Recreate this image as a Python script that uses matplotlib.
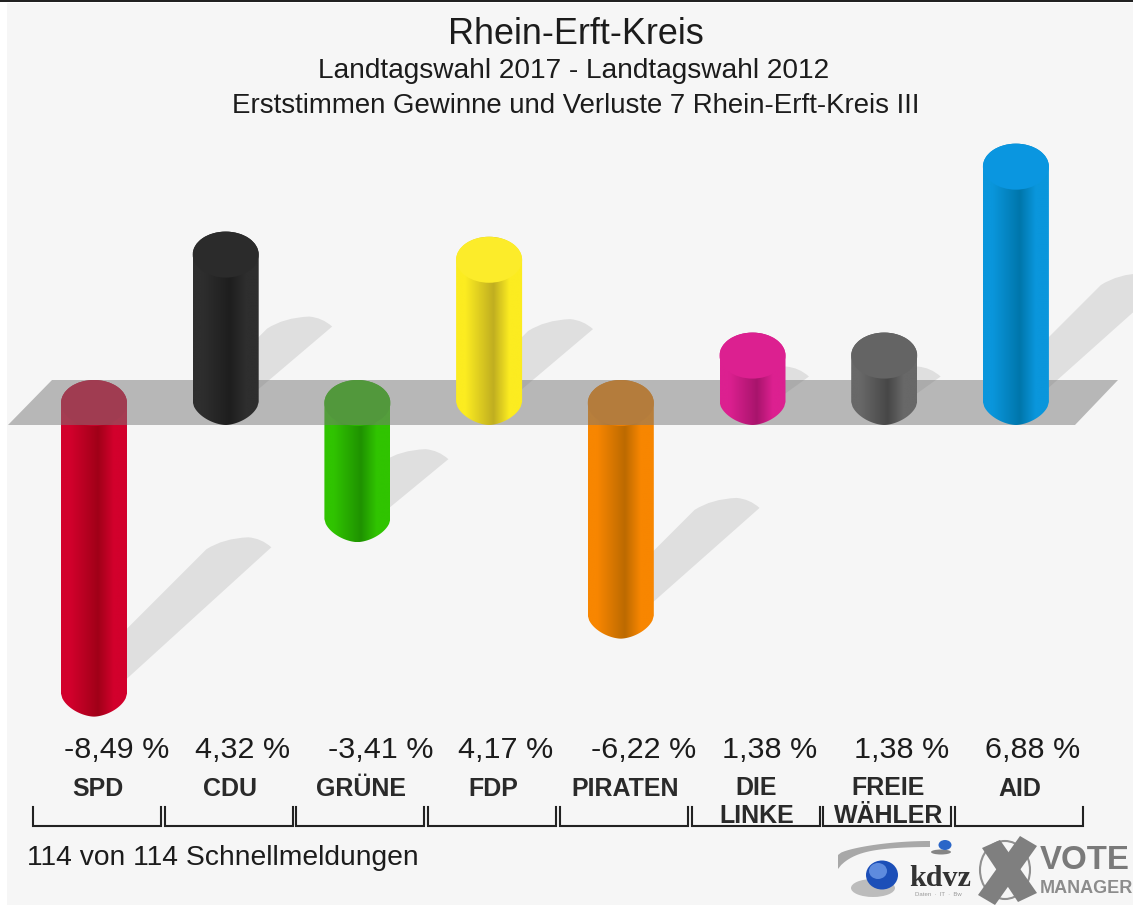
import numpy as np
import matplotlib
matplotlib.use("Agg")
import matplotlib.pyplot as plt
from matplotlib.path import Path
from matplotlib.patches import PathPatch, Polygon, Rectangle, Ellipse
from matplotlib.colors import LinearSegmentedColormap

plt.rcParams['font.family'] = ['Liberation Sans', 'DejaVu Sans']

# ---- data ----
parties = ["SPD", "CDU", "GRÜNE", "FDP", "PIRATEN", "DIE\nLINKE", "FREIE\nWÄHLER", "AID"]
values = [-8.49, 4.32, -3.41, 4.17, -6.22, 1.38, 1.38, 6.88]
value_labels = ["-8,49 %", "4,32 %", "-3,41 %", "4,17 %", "-6,22 %", "1,38 %", "1,38 %", "6,88 %"]
light_colors = ["#d2002c", "#2e2e2e", "#30c400", "#fcec20", "#f88600", "#dc2090", "#686868", "#0a96dc"]
dark_colors = ["#a00018", "#1e1e1e", "#1f9200", "#c0ae20", "#bc6a00", "#a8146c", "#474747", "#0076ab"]
cap_colors = ["#c8002a", "#2b2b2b", "#2cb800", "#fcec2a", "#f08000", "#dc2090", "#646464", "#0a96e0"]
title = "Rhein-Erft-Kreis"
subtitle_1 = "Landtagswahl 2017 - Landtagswahl 2012"
subtitle_2 = "Erststimmen Gewinne und Verluste 7 Rhein-Erft-Kreis III"
footer = "114 von 114 Schnellmeldungen"

# ---- scales: x in party slots, y in percentage points ----
W, H = 1133, 905
SLOT = 131.7      # px per party
UNIT = 34.35      # px per percentage point
X0, Y0 = 94.0, 380.0  # pixel position of slot 0 and of value 0
DEPTH_PX = 45.0

fig = plt.figure(figsize=(W / 100, H / 100), dpi=100, facecolor="white")
ax = fig.add_axes([0, 0, 1, 1])
ax.axis("off")

def xd(px):
    return (np.asarray(px, float) - X0) / SLOT

def yd(py):
    return (Y0 - np.asarray(py, float)) / UNIT

XL, XR = xd(0), xd(W)
YB, YT = yd(H), yd(0)
DEPTH = DEPTH_PX / UNIT
HW = 33.0 / SLOT
CAP = 23.0 / UNIT

# background and top rule
ax.add_patch(Rectangle((xd(7), yd(H)), xd(W) - xd(7), yd(3) - yd(H), fc="#f6f6f6", ec="none", zorder=0))
ax.add_patch(Rectangle((xd(0), yd(2.2)), xd(W) - xd(0), yd(0) - yd(2.2), fc="#222222", ec="none", zorder=0.5))

def pill(cx, top, bottom):
    t = np.linspace(0, np.pi, 50)
    xs = cx + HW * np.cos(t)
    ys = top - CAP + CAP * np.sin(t)
    u = np.linspace(-1, 1, 50)
    xb = cx + HW * u
    yb = bottom + CAP * (1 - (1 - np.abs(u) ** 1.7) ** (1 / 1.7))
    return np.column_stack([np.r_[xs, xb], np.r_[ys, yb]])

def shadow(i, v):
    D = 35 + 17 * abs(v)
    cx = X0 + i * SLOT
    base = Y0 + DEPTH_PX + UNIT * max(-v, 0)
    verts = [(cx, base - 8), (cx + D - 2, base - D + 10),
             (cx + D - 12, base - D + 1), (cx + D - 25, base - D)]
    codes = [Path.MOVETO, Path.LINETO, Path.CURVE3, Path.CURVE3]
    verts += [(cx + D - 50, base - D + 1), (cx + D - 67, base - D + 12)]
    codes += [Path.CURVE3, Path.CURVE3]
    if D >= 95:
        verts.append((cx + 20, base - 75))
        codes.append(Path.LINETO)
    verts += [(cx, base - 40), (cx, base - 8)]
    codes += [Path.LINETO, Path.CLOSEPOLY]
    pts = np.column_stack([xd([p[0] for p in verts]), yd([p[1] for p in verts])])
    return PathPatch(Path(pts, codes), fc="#dfdfdf", ec="none", zorder=1)

for i, v in enumerate(values):
    ax.add_patch(shadow(i, v))

# grey platform at the zero level
platform_px = np.array([(8, 425), (1075, 425), (1118, 380), (52, 380)], float)
ax.add_patch(Polygon(np.column_stack([xd(platform_px[:, 0]), yd(platform_px[:, 1])]),
                     fc="#797979", ec="none", alpha=0.5, zorder=3))

# cylinders
for i, v in enumerate(values):
    z = 4 if v >= 0 else 2
    top = max(v, 0.0)
    bottom = min(v, 0.0) - DEPTH
    outline = PathPatch(Path(pill(i, top, bottom), closed=False), fc="none", ec="none",
                        transform=ax.transData)
    ax.add_patch(outline)
    cmap = LinearSegmentedColormap.from_list(
        "c", [(0, light_colors[i]), (0.14, light_colors[i]), (0.56, dark_colors[i]),
              (0.8, light_colors[i]), (1, light_colors[i])])
    im = ax.imshow(np.linspace(0, 1, 256)[None, :], cmap=cmap, aspect="auto",
                   extent=(i - HW, i + HW, bottom, top), zorder=z, interpolation="bilinear")
    im.set_clip_path(outline)
    ax.add_patch(Ellipse((i, top - CAP), 2 * HW, 2 * CAP, fc=cap_colors[i], ec="none", zorder=z + 0.1))

ax.set_xlim(XL, XR)
ax.set_ylim(YB, YT)

# titles
TXT = "#1c1c1c"
def px_text(px, py, s, size_px, **kw):
    kw.setdefault("ha", "center")
    kw.setdefault("va", "center")
    kw.setdefault("color", TXT)
    return ax.text(xd(px), yd(py + 2), s, fontsize=size_px * 0.72, zorder=6, **kw)

px_text(576, 32, title, 36)
px_text(574, 69, subtitle_1, 28)
px_text(576, 104, subtitle_2, 27.6)

# value labels, party labels and brackets
for i, (lab, name) in enumerate(zip(value_labels, parties)):
    cx = X0 + i * SLOT
    off = 23 if values[i] < 0 else 17
    px_text(cx + off, 748, lab, 30.5)
    if "\n" in name:
        a, b = name.split("\n")
        px_text(cx + 4, 786, a, 25, weight="bold", color="#2a2a2a")
        px_text(cx + 4, 814, b, 25, weight="bold", color="#2a2a2a")
    else:
        px_text(cx + 4, 787, name, 25, weight="bold", color="#2a2a2a")
    lx = xd([cx - 61, cx - 61, cx + 67, cx + 67])
    ly = yd([807, 826, 826, 807])
    ax.plot(lx, ly, color="#222222", lw=1.5, solid_joinstyle="miter", zorder=5)

px_text(27, 856, footer, 28.2, ha="left")

# logos
def px_poly(pts, **kw):
    pts = np.asarray(pts, float)
    ax.add_patch(Polygon(np.column_stack([xd(pts[:, 0]), yd(pts[:, 1])]), ec="none", zorder=5, **kw))

def px_ell(px, py, w, h, **kw):
    ax.add_patch(Ellipse((xd(px), yd(py)), w / SLOT, h / UNIT, zorder=kw.pop("zorder", 5), ec="none", **kw))

# swoosh
t = np.linspace(0, 1, 30)
sx = 838 + 92 * t
outer = 855 - 14 * np.sin(t * np.pi / 2) ** 0.6
inner = 857 - 10 * np.sin(t * np.pi / 2) ** 0.6 + 12 * (1 - t) ** 6
px_poly(np.r_[np.column_stack([sx, outer]), np.column_stack([sx, inner])[::-1]], fc="#a8a8a8")
px_ell(941, 852, 20, 5, fc="#555555", alpha=0.7)
px_ell(945, 845, 13, 10, fc="#2a66c8")
px_ell(873, 888, 44, 18, fc="#777777", alpha=0.45)
px_ell(882, 875, 32, 29, fc="#1c4fb8")
px_ell(878, 871, 18, 16, fc="#6f9be8", alpha=0.8)
px_text(940, 876, "kdvz", 30, family=["Liberation Serif"], weight="bold", color="#333333")
px_text(938, 892, "Daten  ·  IT  ·  Bw", 6, color="#999999")

# voting cross
ax.add_patch(Ellipse((xd(1005), yd(870)), 50 / SLOT, 58 / UNIT, fc="none", ec="#909090", lw=1.5, zorder=5))
px_poly([(982, 848), (1000, 840), (1037, 893), (1018, 902)], fc="#7f7f7f")
px_poly([(1020, 836), (1037, 846), (995, 905), (978, 895)], fc="#7f7f7f")
px_text(1040, 858, "VOTE", 33, ha="left", weight="bold", color="#7a7a7a")
px_text(1040, 886, "MANAGER", 18, ha="left", weight="bold", color="#8c8c8c")

fig.savefig("out.png", dpi=100, facecolor="white")
